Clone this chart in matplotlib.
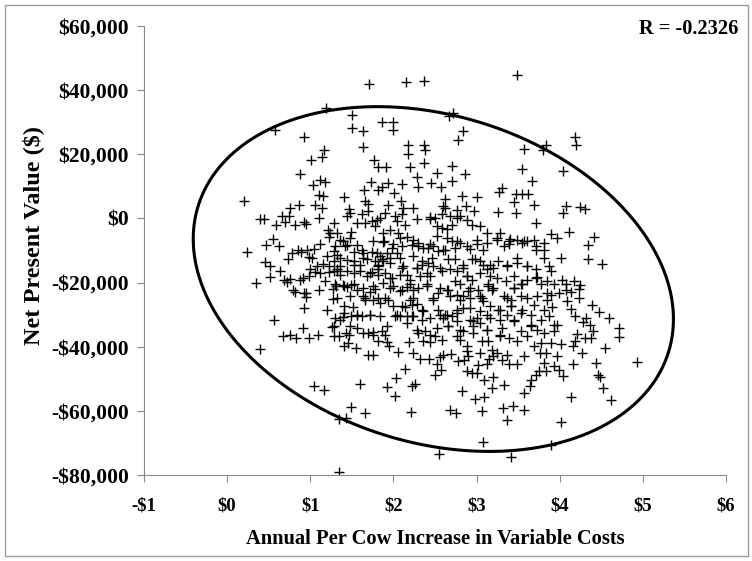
import numpy as np
import matplotlib.pyplot as plt
from matplotlib.patches import Rectangle

# (annual cost increase $, NPV in $1000)
upper_pts = [
    (1.71, 42.0), (1.19, 34.5), (1.50, 32.2), (0.58, 27.7), (1.50, 28.1), (1.64, 27.1),
    (0.92, 25.4), (1.63, 22.3), (1.16, 21.3), (1.14, 19.1), (1.01, 18.2), (1.77, 18.2),
    (1.82, 16.1), (0.88, 14.0), (1.12, 12.0), (1.18, 11.5), (1.03, 10.5), (1.73, 11.5),
    (1.65, 8.75), (1.81, 8.75), (0.20, 5.4), (1.10, 7.2), (1.15, 7.0), (1.40, 6.8),
    (1.66, 5.4), (1.70, 4.4), (0.86, 4.3), (0.76, 3.1), (1.06, 4.1), (1.14, 3.1), (1.46, 3.0),
    (2.15, 42.6), (2.37, 42.7), (3.49, 44.6), (2.72, 33.0), (2.67, 32.0), (1.86, 30.1),
    (2.00, 30.1), (1.99, 27.5), (2.84, 27.2), (2.78, 24.5), (4.18, 25.5), (4.20, 22.8),
    (3.83, 23.0), (3.80, 21.3), (3.57, 21.6), (2.17, 23.0), (2.37, 22.8), (2.18, 20.0),
    (2.38, 21.3), (2.37, 17.2), (1.91, 16.1), (2.20, 15.9), (2.70, 16.3), (3.55, 15.5),
    (4.04, 14.9), (2.52, 14.3), (2.86, 13.9), (2.28, 12.8), (2.71, 11.6), (3.67, 11.6),
    (1.94, 10.9), (2.10, 10.7), (2.45, 10.9), (2.57, 9.7), (2.29, 9.7), (1.86, 9.7),
    (2.01, 8.0), (3.30, 9.5), (3.27, 8.2), (3.48, 7.6), (3.55, 7.7), (3.62, 7.5),
    (2.83, 7.0), (3.00, 6.6), (2.62, 5.9), (2.09, 5.3), (3.45, 5.1), (3.69, 4.1),
    (4.07, 3.8), (1.94, 4.3), (2.23, 3.2), (2.60, 3.8), (2.87, 3.8), (4.24, 3.5), (4.30, 2.9),
    (2.12, 3.3), (2.62, 3.3), (2.77, 2.6), (2.97, 2.3), (3.26, 2.0), (3.47, 1.6),
]

right_pts = [
    (4.04, 1.6), (4.11, -4.1), (4.41, -5.7), (4.34, -8.2), (4.02, -12.2), (4.34, -12.6),
    (4.51, -14.1), (4.03, -19.3), (4.17, -19.5), (4.08, -20.5), (4.25, -20.7), (4.23, -22.0),
    (4.13, -23.0), (4.07, -22.2), (4.23, -24.9), (4.09, -25.8), (4.39, -27.0), (4.14, -28.1),
    (4.47, -29.2), (4.59, -31.1), (4.19, -30.4), (4.32, -31.0), (4.28, -32.2), (4.37, -33.1),
    (4.71, -34.2), (4.40, -35.0), (4.71, -36.9), (4.21, -35.9), (4.30, -37.2), (4.38, -37.4),
    (4.18, -38.1), (4.16, -39.9), (4.55, -40.5), (4.27, -42.0), (4.16, -45.3), (4.44, -45.1),
    (4.93, -44.8), (4.04, -49.1), (4.46, -48.8), (4.49, -49.6), (4.52, -53.0), (4.62, -56.5),
    (4.14, -55.7), (4.02, -63.4),
]

core_left_pts = [
    (0.39, -0.3), (0.44, -0.3), (0.66, 0.7), (0.74, 0.9), (0.59, -2.2), (0.69, -1.2),
    (0.82, -2.2), (0.93, -1.2), (0.95, -1.8), (1.11, 0.1), (0.55, -6.3), (0.47, -8.2),
    (0.62, -8.7), (0.24, -10.5), (0.73, -12.6), (0.85, -9.7), (0.78, -10.7), (0.89, -10.5),
    (0.96, -9.7), (1.04, -9.5), (1.02, -12.3), (0.99, -12.0), (1.12, -8.1), (1.20, -11.8),
    (1.28, -10.2), (1.32, -11.3), (1.24, -4.5), (1.29, -1.3), (1.21, -3.7), (1.22, -5.7),
    (1.32, -4.5), (1.39, -7.1), (1.49, -4.3), (1.44, 0.9), (1.48, 1.8), (1.62, 1.3),
    (1.70, 2.3), (1.56, -1.3), (1.66, -1.3), (1.74, -0.8), (1.80, -0.5), (1.78, -2.4),
    (1.44, -8.4), (1.56, -8.4), (1.52, -10.5), (1.64, -10.7), (1.74, -10.5), (1.80, -10.7),
    (1.68, -12.8), (1.78, -13.3), (1.82, -14.4), (1.60, -14.4), (1.52, -13.3), (1.44, -13.0),
    (1.36, -14.9), (1.32, -15.7), (1.23, -14.9), (1.15, -14.1), (1.08, -14.9), (1.00, -15.9),
    (0.98, -18.0), (1.06, -16.8), (1.12, -17.0), (1.22, -16.8), (1.28, -16.5), (1.36, -17.5),
    (1.44, -16.5), (1.52, -17.0), (1.60, -16.5), (1.68, -18.0), (1.74, -16.8), (1.81, -15.9),
    (1.82, -17.5), (0.45, -13.7), (0.51, -14.7), (0.63, -16.4), (0.51, -18.2), (0.35, -20.1),
    (0.68, -19.1), (0.76, -18.9), (0.88, -19.1), (0.91, -18.5), (0.72, -19.9), (0.79, -22.2),
    (0.82, -23.0), (0.93, -23.2), (0.95, -23.4), (1.10, -22.2), (1.18, -19.6), (1.27, -22.0),
    (1.31, -21.2), (1.39, -20.9), (1.44, -21.3), (1.49, -20.9), (1.56, -22.2), (1.63, -24.3),
    (1.72, -23.0), (1.78, -22.0), (1.76, -25.3), (1.66, -25.3), (0.95, -24.5), (0.93, -27.9),
    (1.20, -28.4), (1.27, -25.1), (1.40, -27.2), (1.51, -27.6), (1.56, -30.0), (1.49, -30.3),
    (1.39, -30.7), (1.30, -31.0), (1.36, -31.8), (1.72, -30.0), (1.62, -30.5), (0.56, -31.8),
    (0.91, -34.2), (1.26, -34.0), (1.35, -36.6), (1.43, -35.7), (1.48, -33.7), (1.56, -34.2),
    (1.70, -35.7), (1.76, -35.5), (0.67, -36.8), (0.75, -36.3), (0.83, -37.4), (0.98, -37.3),
    (1.09, -36.3), (1.29, -36.6),
]

core_right_pts = [
    (2.10, 1.3), (2.02, 0.9), (1.90, 1.6), (2.44, 0.5), (2.50, 0.2), (2.58, 1.3), (2.68, 0.9),
    (2.80, 0.9), (1.84, 0.2), (2.04, -0.8), (2.14, -1.9), (2.28, -0.3), (2.44, -0.3),
    (2.53, -2.4), (2.58, -2.9), (2.64, -3.4), (2.70, -1.9), (2.76, 0.2), (2.89, -0.5),
    (2.94, -1.9), (3.04, -2.4), (3.13, -4.5), (3.28, -4.5), (3.40, -6.3), (3.49, -6.6),
    (3.57, -7.1), (3.69, -6.6), (3.71, -1.3), (3.89, -5.0), (1.87, -4.5), (1.96, -3.7),
    (2.06, -4.5), (1.89, -7.1), (2.00, -8.1), (2.10, -8.7), (2.22, -8.4), (2.30, -7.6),
    (2.36, -9.2), (2.48, -8.7), (2.54, -10.2), (2.62, -9.7), (2.70, -7.1), (2.80, -7.6),
    (2.88, -8.7), (3.00, -8.1), (3.08, -9.7), (3.25, -6.8), (3.39, -8.1), (3.55, -7.6),
    (3.61, -7.1), (3.71, -8.7), (3.81, -9.7), (1.92, -10.7), (2.04, -10.7), (1.86, -12.8),
    (1.96, -13.9), (2.08, -12.3), (2.24, -11.8), (2.34, -13.3), (2.48, -14.9), (2.58, -16.5),
    (2.74, -12.8), (2.84, -14.4), (2.94, -12.8), (3.04, -13.3), (3.16, -14.4), (3.26, -13.3),
    (3.37, -14.9), (3.49, -13.9), (3.61, -14.9), (3.71, -15.9), (3.87, -14.9), (1.84, -11.8),
    (2.12, -14.9), (2.28, -15.4), (2.42, -13.9), (2.68, -15.9), (3.13, -15.9), (1.90, -17.0),
    (1.98, -18.5), (2.08, -17.5), (2.20, -19.1), (2.32, -18.0), (2.44, -18.0), (2.74, -19.6),
    (2.88, -18.0), (2.94, -19.1), (3.04, -17.0), (3.14, -21.2), (3.25, -18.5), (3.35, -19.6),
    (3.45, -21.7), (3.53, -20.6), (3.61, -19.1), (3.73, -18.2), (3.85, -19.6), (3.93, -20.6),
    (1.88, -20.1), (2.16, -21.3), (1.96, -21.7), (2.08, -22.7), (2.24, -22.2), (2.40, -21.2),
    (2.54, -23.2), (2.66, -22.2), (2.76, -23.8), (2.90, -22.7), (3.04, -24.3), (3.18, -22.2),
    (3.37, -24.8), (3.53, -24.3), (3.73, -24.3), (3.85, -25.3), (3.99, -23.2), (1.90, -24.8),
    (2.20, -25.3), (2.48, -24.8), (2.80, -25.3), (2.92, -24.8), (3.08, -25.8), (1.84, -26.3),
    (2.00, -27.4), (2.14, -27.6), (2.28, -26.6), (2.36, -29.0), (2.54, -28.4), (2.64, -30.0),
    (2.76, -29.5), (2.92, -27.9), (3.04, -29.0), (3.16, -27.2), (3.28, -28.4), (3.41, -27.4),
    (3.53, -29.5), (3.69, -26.9), (3.81, -28.4), (3.91, -27.6), (2.02, -30.5), (2.22, -30.3),
    (2.44, -31.0), (3.00, -31.0), (3.37, -30.0), (1.92, -33.7), (2.08, -30.5), (2.16, -30.5),
    (2.24, -30.5), (2.34, -31.8), (2.60, -31.0), (2.70, -30.5), (2.76, -32.1), (2.92, -31.6),
    (3.04, -32.6), (3.16, -31.0), (3.28, -31.8), (3.45, -31.8), (3.65, -33.1), (3.77, -31.6),
    (3.93, -33.1), (1.86, -35.2), (2.28, -34.7), (2.38, -35.2), (2.52, -34.2), (2.66, -33.7),
    (2.80, -34.7), (2.96, -33.7), (3.13, -34.7), (3.31, -34.2), (3.53, -35.2), (3.73, -34.7),
    (3.93, -35.2), (2.50, -36.8), (2.76, -36.8), (3.28, -36.8), (3.39, -37.3), (3.49, -38.3),
    (3.61, -36.8),
]

# second pass over the densest band
core_extra_pts = [
    (1.36, -6.6), (1.48, -6.0), (1.76, -6.9), (1.88, -7.3), (2.08, -6.0), (2.16, -5.8),
    (2.24, -6.6), (2.44, -8.1), (2.52, -5.5), (2.64, -6.0), (2.76, -7.1), (3.00, -6.6),
    (3.13, -7.6), (3.25, -6.2), (3.39, -6.9), (3.81, -7.6), (3.97, -6.0), (1.30, -8.7),
    (1.42, -8.7), (1.62, -9.7), (1.98, -9.2), (2.30, -8.7), (2.42, -9.2), (2.60, -9.7),
    (2.74, -9.2), (2.92, -9.4), (3.33, -8.7), (3.71, -9.7),
    (1.28, -13.3), (1.36, -12.3), (1.52, -14.4), (1.64, -12.3), (1.82, -14.9), (1.88, -13.3),
    (1.96, -12.3), (2.10, -15.4), (2.28, -15.4), (2.34, -14.4), (2.46, -12.3), (2.56, -15.4),
    (2.66, -12.8), (2.76, -16.5), (2.84, -15.4), (2.98, -12.8), (3.08, -14.4), (3.20, -15.4),
    (3.37, -14.4), (3.49, -12.3), (3.61, -14.9), (3.81, -12.3), (3.89, -16.5), (1.32, -16.5),
    (1.72, -17.0), (2.16, -17.5), (2.40, -17.0), (2.88, -18.0), (3.16, -18.0), (3.45, -18.0),
    (1.30, -20.6), (1.40, -21.2), (1.52, -20.6), (1.64, -21.7), (1.76, -21.2), (1.96, -18.5),
    (2.00, -21.2), (2.10, -22.2), (2.20, -20.6), (2.30, -21.7), (2.40, -20.6), (2.56, -21.7),
    (2.64, -22.2), (2.80, -20.6), (2.92, -21.7), (3.02, -22.2), (3.14, -20.6), (3.20, -21.7),
    (3.33, -24.3), (3.45, -21.7), (3.55, -20.6), (3.71, -18.5), (3.77, -20.6), (3.89, -23.8),
    (1.32, -24.8), (1.48, -24.3), (1.66, -24.8), (1.82, -24.8), (1.94, -25.3), (2.24, -24.8),
    (2.48, -25.3), (2.68, -24.3), (2.84, -24.3), (3.06, -24.8), (3.42, -25.3), (3.61, -24.8),
    (3.85, -23.2),
    (1.40, -29.5), (1.56, -30.0), (1.72, -30.0), (1.84, -30.5), (2.04, -30.0), (2.10, -27.4),
    (2.22, -26.9), (2.34, -28.4), (2.56, -30.0), (2.62, -30.0), (2.76, -28.4), (2.84, -27.9),
    (2.96, -32.1), (3.13, -30.0), (3.26, -28.4), (3.41, -27.4), (3.55, -28.4), (3.65, -30.0),
    (3.87, -30.5), (1.28, -33.7), (1.64, -35.7), (1.76, -36.3), (1.90, -36.3), (2.16, -32.6),
    (2.30, -35.7), (2.44, -36.3), (2.66, -33.7), (2.84, -35.2), (2.96, -35.7), (3.13, -34.7),
    (3.28, -36.3), (3.45, -32.1), (3.65, -33.7), (3.81, -35.7), (3.97, -33.1), (1.46, -36.3),
]

lower_pts = [
    (0.40, -40.8), (1.41, -39.9), (1.45, -38.8), (1.55, -40.4), (1.69, -42.7), (1.75, -42.7),
    (1.81, -38.3), (1.04, -52.4), (1.17, -53.4), (1.60, -51.5), (1.49, -58.8), (1.66, -60.6),
    (1.35, -62.5), (1.43, -62.1), (1.34, -79.0),
    (1.92, -38.6), (1.95, -39.9), (2.19, -38.6), (2.36, -38.1), (2.44, -38.6), (2.58, -38.0),
    (2.80, -37.8), (2.89, -39.7), (3.06, -38.1), (3.14, -38.3), (2.05, -41.8), (2.24, -42.0),
    (2.32, -43.7), (2.43, -43.7), (2.60, -42.5), (2.69, -42.4), (2.52, -45.3), (2.56, -43.2),
    (2.78, -44.6), (2.85, -44.1), (2.88, -41.2), (2.90, -42.8), (3.04, -42.0), (3.12, -45.3),
    (3.02, -45.8), (3.15, -43.7), (3.20, -42.8), (3.18, -40.9), (3.25, -42.0), (3.37, -42.5),
    (3.31, -44.3), (3.39, -45.3), (3.49, -45.3), (3.57, -43.0), (3.69, -39.9), (3.77, -38.8),
    (3.89, -38.8), (4.01, -39.1), (3.76, -42.0), (3.84, -42.0), (3.97, -42.8), (3.81, -45.1),
    (3.93, -45.9), (3.99, -47.2), (3.84, -47.7), (3.75, -47.7), (3.71, -48.7), (3.65, -50.3),
    (2.14, -47.0), (2.50, -48.8), (2.57, -47.2), (2.03, -49.8), (2.88, -47.7), (2.94, -48.2),
    (3.00, -48.2), (3.09, -50.3), (3.20, -49.6), (1.92, -52.7), (2.02, -55.5), (2.22, -52.4),
    (2.26, -51.7), (2.82, -53.8), (3.18, -52.9), (3.33, -51.9), (3.57, -54.3), (3.64, -52.4),
    (2.98, -56.2), (3.09, -55.7), (2.21, -60.3), (2.68, -59.6), (2.75, -60.7), (3.07, -59.9),
    (3.32, -59.0), (3.44, -58.6), (3.57, -59.7), (3.37, -63.0), (3.08, -69.6), (3.89, -70.6),
    (2.55, -73.4), (3.41, -74.3),
]

r_value = -0.2326
# confidence ellipse drawn on the chart
ell_center = (2.48, -18900)
ell_sd = (2.888, 53750)

pts = np.array(upper_pts + right_pts + core_left_pts + core_right_pts + core_extra_pts + lower_pts)
cost = pts[:, 0]
npv = pts[:, 1] * 1000

plt.rcParams['font.family'] = ['Liberation Serif', 'DejaVu Serif']
plt.rcParams['font.weight'] = 'bold'

fig = plt.figure(figsize=(7.52, 5.61), dpi=100)
ax = fig.add_axes([0.1915, 0.1533, 0.7739, 0.8004])

ax.plot(cost, npv, linestyle='none', marker='+', ms=7, mew=1.0, color='black')

t = np.linspace(0, 2 * np.pi, 400)
ex = ell_center[0] + ell_sd[0] * np.cos(t)
ey = ell_center[1] + ell_sd[1] * (r_value * np.cos(t) + np.sqrt(1 - r_value ** 2) * np.sin(t))
ax.plot(ex, ey, color='black', lw=2.2)

ax.set_xlim(-1, 6)
ax.set_ylim(-80000, 60000)
ax.set_xticks(range(-1, 7))
ax.set_xticklabels(['-$1' if v < 0 else f'${v}' for v in range(-1, 7)])
yt = list(range(-80000, 60001, 20000))
ax.set_yticks(yt)
ax.set_yticklabels([f'-${abs(v):,}' if v < 0 else f'${v:,}' for v in yt])
ax.tick_params(direction='out', length=5, color='#888888')
ax.tick_params(axis='x', labelsize=13.5, pad=11)
ax.tick_params(axis='y', labelsize=15.5, pad=6)
for s in ['top', 'right']:
    ax.spines[s].set_visible(False)
for s in ['left', 'bottom']:
    ax.spines[s].set_color('#888888')

ax.set_xlabel('Annual Per Cow Increase in Variable Costs', fontsize=14.8, fontweight='bold', labelpad=11)
ax.set_ylabel('Net Present Value ($)', fontsize=17.5, fontweight='bold')
ax.yaxis.set_label_coords(-0.172, 0.534)

fig.text(0.982, 0.948, f'R = {r_value}', ha='right', va='center', fontsize=14.7, fontweight='bold')
fig.patches.append(Rectangle((5 / 752, 5 / 561), 743 / 752, 551 / 561, transform=fig.transFigure,
                             fill=False, edgecolor='#999999', lw=1))

fig.savefig('out.png', dpi=100)
